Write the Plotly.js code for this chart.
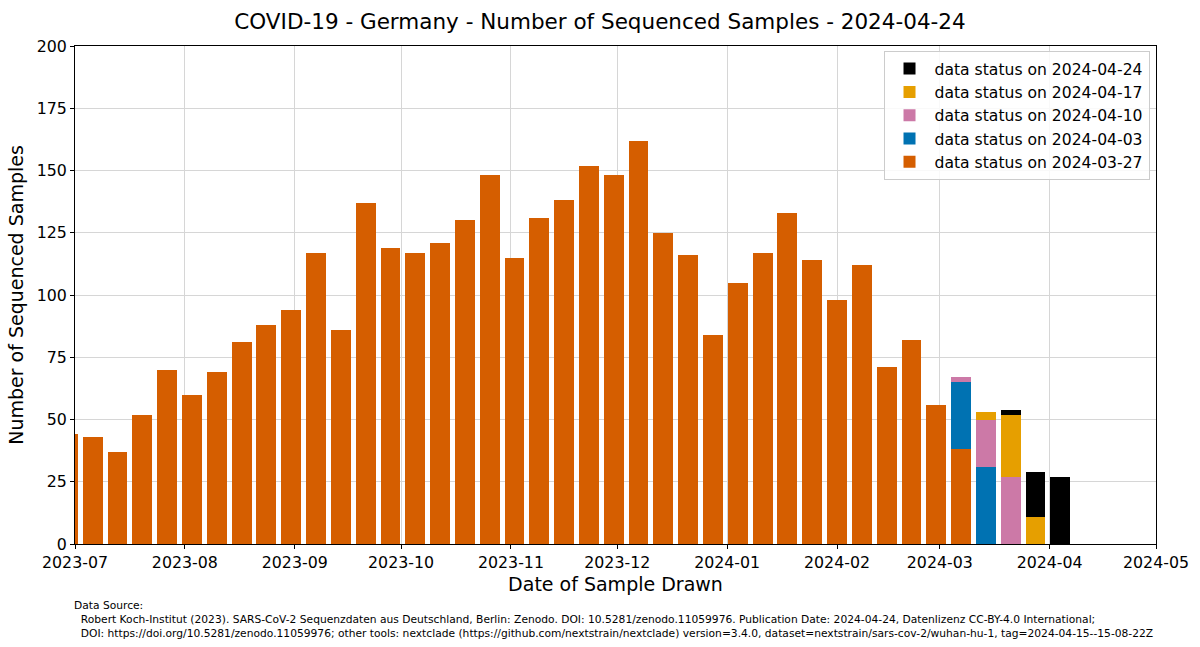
<!DOCTYPE html>
<html>
<head>
<meta charset="utf-8">
<script src="https://cdn.plot.ly/plotly-3.0.1.min.js"></script>
<style>html,body{margin:0;padding:0;background:#fff;}#chart{width:1200px;height:647px;}</style>
</head>
<body>
<div id="chart"></div>
<script>
// Week centres (Thursdays)
const weeks = ["2023-06-29","2023-07-06","2023-07-13","2023-07-20","2023-07-27","2023-08-03","2023-08-10","2023-08-17","2023-08-24","2023-08-31",
"2023-09-07","2023-09-14","2023-09-21","2023-09-28","2023-10-05","2023-10-12","2023-10-19","2023-10-26","2023-11-02","2023-11-09",
"2023-11-16","2023-11-23","2023-11-30","2023-12-07","2023-12-14","2023-12-21","2023-12-28","2024-01-04","2024-01-11","2024-01-18",
"2024-01-25","2024-02-01","2024-02-08","2024-02-15","2024-02-22","2024-02-29","2024-03-07","2024-03-14","2024-03-21","2024-03-28","2024-04-04"];

// Increments per data status
const status0327 = [44,43,37,52,70,60,69,81,88,94,117,86,137,119,117,121,130,148,115,131,138,152,148,162,125,116,84,105,117,133,114,98,112,71,82,56,38,0,0,0,0];
const status0403 = [0,0,0,0,0,0,0,0,0,0,0,0,0,0,0,0,0,0,0,0,0,0,0,0,0,0,0,0,0,0,0,0,0,0,0,0,27,31,0,0,0];
const status0410 = [0,0,0,0,0,0,0,0,0,0,0,0,0,0,0,0,0,0,0,0,0,0,0,0,0,0,0,0,0,0,0,0,0,0,0,0,2,19,27,0,0];
const status0417 = [0,0,0,0,0,0,0,0,0,0,0,0,0,0,0,0,0,0,0,0,0,0,0,0,0,0,0,0,0,0,0,0,0,0,0,0,0,3,25,11,0];
const status0424 = [0,0,0,0,0,0,0,0,0,0,0,0,0,0,0,0,0,0,0,0,0,0,0,0,0,0,0,0,0,0,0,0,0,0,0,0,0,0,2,18,27];

const seriesNames = ["data status on 2024-03-27","data status on 2024-04-03","data status on 2024-04-10","data status on 2024-04-17","data status on 2024-04-24"];
const seriesValues = [status0327,status0403,status0410,status0417,status0424];
const seriesColors = ["#D55E00","#0072B2","#CC79A7","#E69F00","#000000"];

const barWidth = 0.8*7*86400000;
const traces = seriesNames.map((n,i)=>({
  type:'bar', name:n, x:weeks, y:seriesValues[i],
  width: weeks.map(()=>barWidth),
  marker:{color:seriesColors[i], line:{width:0}},
  hoverinfo:'x+y+name'
}));

const font = "DejaVu Sans, sans-serif";
const footer = "Data Source:<br>  Robert Koch-Institut (2023). SARS-CoV-2 Sequenzdaten aus Deutschland, Berlin: Zenodo. DOI: 10.5281/zenodo.11059976. Publication Date: 2024-04-24, Datenlizenz CC-BY-4.0 International;<br>  DOI: https://doi.org/10.5281/zenodo.11059976; other tools: nextclade (https://github.com/nextstrain/nextclade) version=3.4.0, dataset=nextstrain/sars-cov-2/wuhan-hu-1, tag=2024-04-15--15-08-22Z";

const layout = {
  width:1200, height:647,
  margin:{l:75, r:44, t:46, b:103},
  paper_bgcolor:'#fff', plot_bgcolor:'#fff',
  font:{family:font, color:'#000', size:15},
  barmode:'stack', bargap:0,
  title:{text:"COVID-19 - Germany - Number of Sequenced Samples - 2024-04-24", font:{size:21.5, family:font}, x:0.5, xanchor:'center', y:0.967, yanchor:'middle'},
  xaxis:{
    type:'date', range:['2023-07-01','2024-05-01'], tick0:'2023-07-01', dtick:'M1', tickformat:'%Y-%m',
    showgrid:true, gridcolor:'#d6d6d6', gridwidth:1,
    showline:true, linecolor:'#000', linewidth:1, mirror:true,
    ticks:'outside', ticklen:4, tickcolor:'#000', tickfont:{size:15.8},
    title:{text:"Date of Sample Drawn", font:{size:19}, standoff:6},
    zeroline:false
  },
  yaxis:{
    range:[0,200], tick0:0, dtick:25,
    showgrid:true, gridcolor:'#d6d6d6', gridwidth:1,
    showline:true, linecolor:'#000', linewidth:1, mirror:true,
    ticks:'outside', ticklen:4, tickcolor:'#000', tickfont:{size:15.8},
    title:{text:"Number of Sequenced Samples", font:{size:19}, standoff:8},
    zeroline:false
  },
  legend:{
    x:0.994, y:0.99, xanchor:'right', yanchor:'top',
    bgcolor:'rgba(255,255,255,0.85)', bordercolor:'#cccccc', borderwidth:1,
    font:{size:15.6}, traceorder:'reversed', itemwidth:40, tracegroupgap:0
  },
  annotations:[{
    text:footer, xref:'paper', yref:'paper', x:-0.002, y:-0.108, xanchor:'left', yanchor:'top',
    showarrow:false, align:'left', borderpad:0, font:{size:10.7, family:font}
  }]
};

Plotly.newPlot('chart', traces, layout, {displayModeBar:false, staticPlot:true});
</script>
</body>
</html>
